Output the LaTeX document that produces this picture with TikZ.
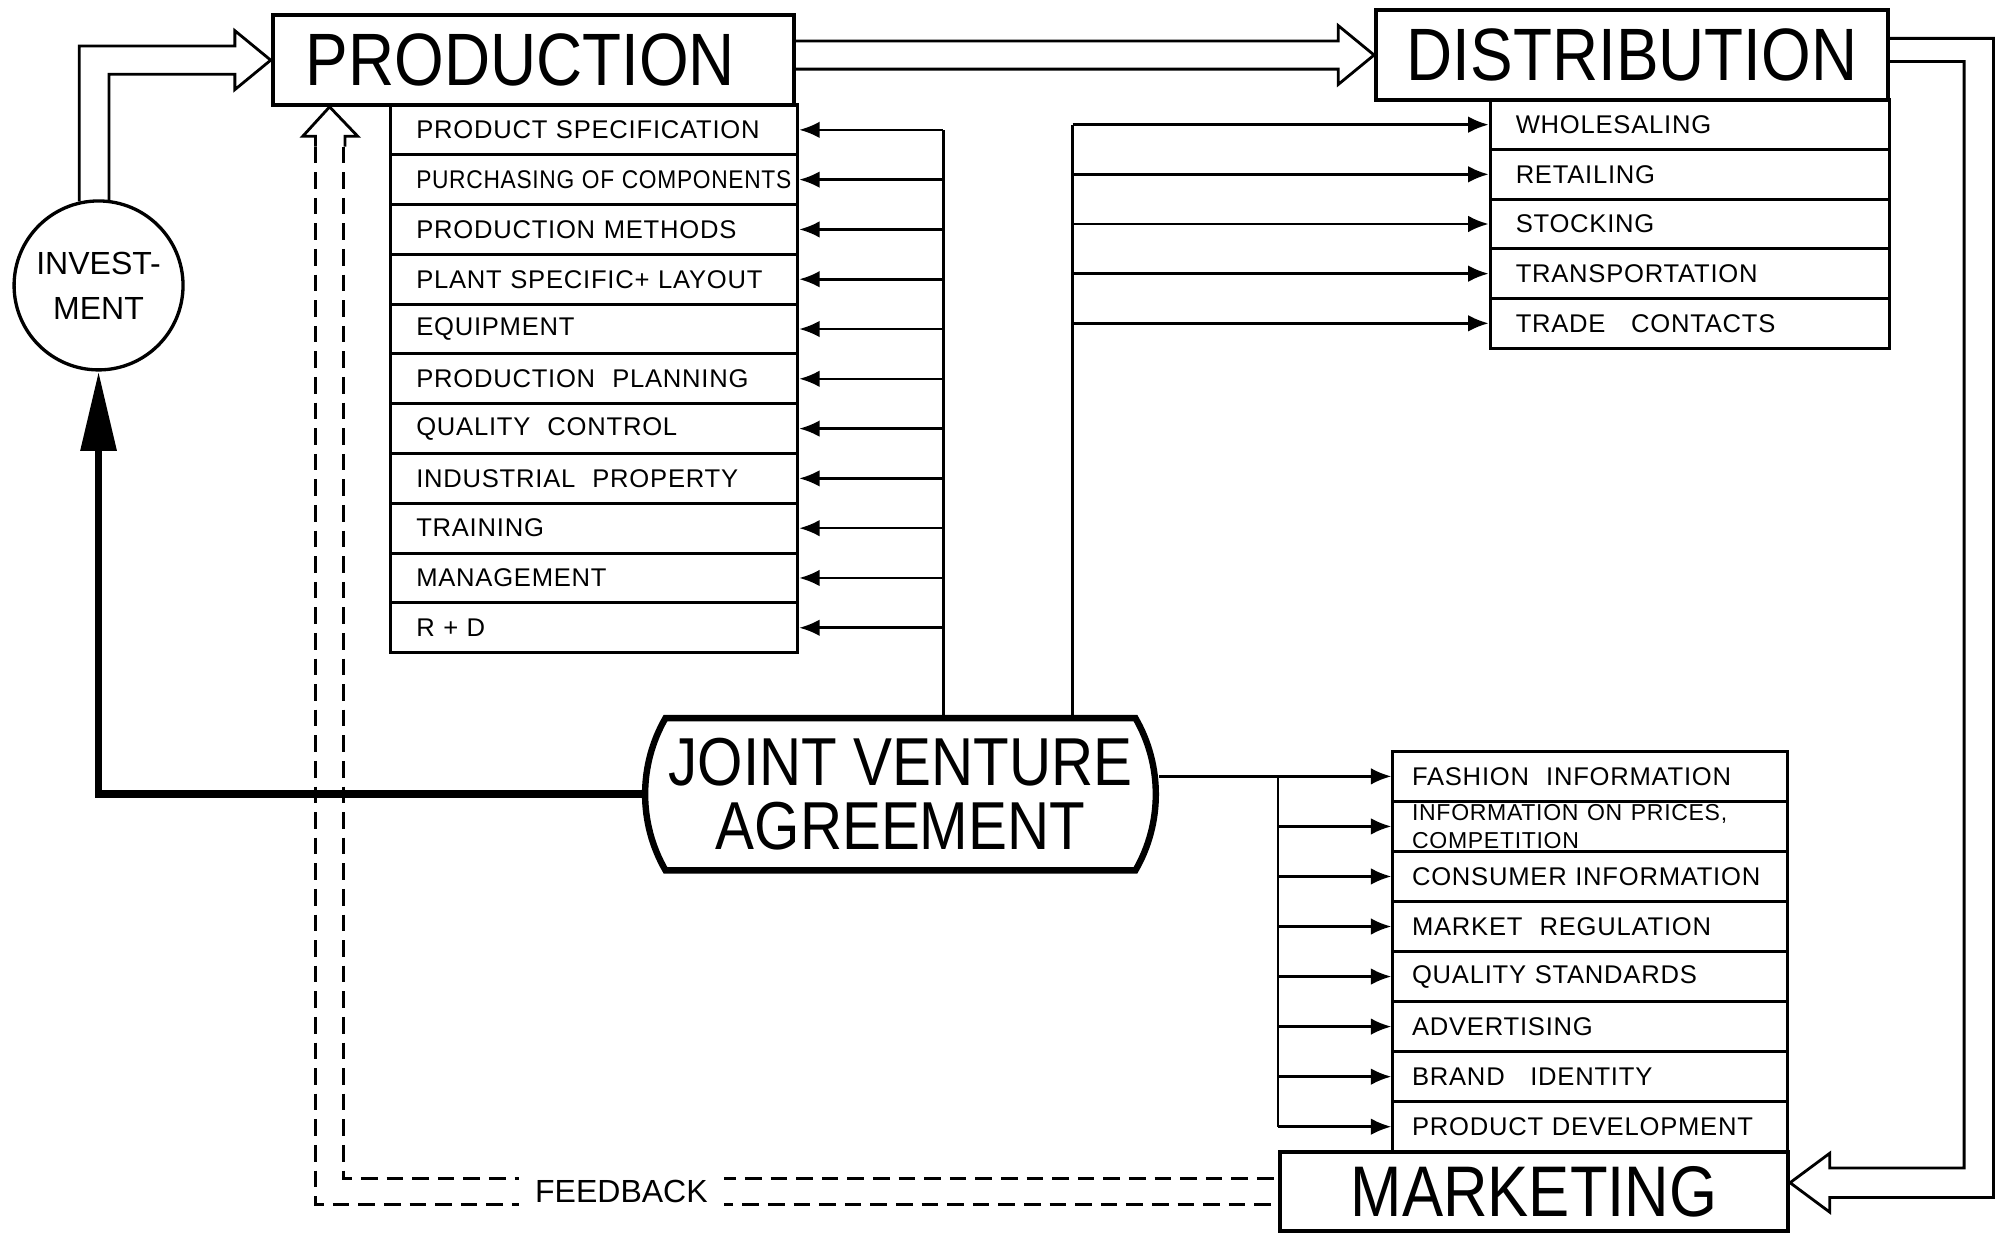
\documentclass[tikz,border=0pt]{standalone}
\usepackage{fontspec}
\setmainfont{Liberation Sans}
\newfontfamily\titlefamily{Liberation Sans}[FakeStretch=0.86]
\newfontfamily\rowfamily{Liberation Sans}[LetterSpace=3]
\usepackage{graphicx}
\usepackage{tikz}
\usetikzlibrary{positioning, calc, arrows.meta, shapes.misc}
\newcommand{\titlefont}[2]{\titlefamily\fontsize{#1}{#2}\selectfont}
\newcommand{\rowfont}{\rowfamily\fontsize{20}{22}\selectfont}

\begin{document}
\begin{tikzpicture}[x=1pt, y=-1pt,
    box/.style={draw, line width=3pt, inner sep=0pt},
    listrow/.style 2 args={draw, line width=2.4pt, anchor=west, inner ysep=0pt,
        minimum height=38.9pt, inner xsep=#2, text width=#1, align=left, font=\rowfont},
    bus/.style={line width=2pt},
    toarrow/.style={-{Latex[length=16pt, width=13pt]}, line width=2pt},
    hollow/.style={line width=2.2pt, line join=miter},
    dashline/.style={line width=2.2pt, dash pattern=on 13pt off 7pt}]
    \path[use as bounding box, fill=white] (0,0) rectangle (1568,965);

    % main blocks
    \node[box, minimum width=407pt, minimum height=70pt, font={\titlefont{58}{58}}] (prod) at (416.5,47) {PRODUCTION\hspace*{20pt}};
    \node[box, minimum width=400pt, minimum height=70pt, font={\titlefont{58}{58}}] (dist) at (1275,43) {DISTRIBUTION};
    \node[box, minimum width=397pt, minimum height=62pt, font={\titlefont{56}{56}}] (mkt) at (1198.5,931) {MARKETING};
    \node[circle, draw, line width=2.6pt, minimum size=132pt, inner sep=0pt, align=center,
        font=\fontsize{25}{35}\selectfont] (inv) at (77,223) {INVEST-\\MENT};
    \node[rounded rectangle, rounded rectangle arc length=60, draw, line width=5pt,
        minimum width=399pt, minimum height=119pt, inner sep=0pt, align=center,
        font={\titlefont{53}{50}}] (jv) at (703.5,620.5) {JOINT VENTURE\\AGREEMENT};

    % lists
    \foreach \txt [count=\i] in {PRODUCT SPECIFICATION, \scalebox{0.89}[1]{PURCHASING OF COMPONENTS},
        PRODUCTION METHODS, PLANT SPECIFIC+ LAYOUT, EQUIPMENT, PRODUCTION\ \ PLANNING,
        QUALITY\ \ CONTROL, INDUSTRIAL\ \ PROPERTY, TRAINING, MANAGEMENT, R + D}
        \node[listrow={278pt}{20pt}] (p\i) at (304, {82+38.9*(\i-0.5)}) {\txt};
    \foreach \txt [count=\i] in {WHOLESALING, RETAILING, STOCKING, TRANSPORTATION, TRADE\ \ \ CONTACTS}
        \node[listrow={272pt}{20pt}] (d\i) at (1163, {78+38.8*(\i-0.5)}) {\txt};
    \foreach \txt [count=\i] in {FASHION\ \ INFORMATION, {\fontsize{18}{15}\selectfont INFORMATION ON PRICES,\\COMPETITION},
        CONSUMER INFORMATION, MARKET\ \ REGULATION, QUALITY STANDARDS, ADVERTISING,
        BRAND\ \ \ IDENTITY, PRODUCT DEVELOPMENT}
        \node[listrow={278pt}{15pt}] (m\i) at (1087, {587+39.1*(\i-0.5)}) {\txt};

    % agreement to the lists
    \coordinate (pbus) at (737,0);
    \coordinate (dbus) at (838,0);
    \draw[bus] (jv.north -| pbus) -- (pbus |- p1.east);
    \foreach \i in {1,...,11}
        \draw[toarrow] (pbus |- p\i.east) -- (p\i.east);
    \draw[bus] (jv.north -| dbus) -- (dbus |- d1.west);
    \foreach \i in {1,...,5}
        \draw[toarrow] (dbus |- d\i.west) -- (d\i.west);
    \draw[toarrow] (jv.east |- m1.west) -- (m1.west);
    \draw[bus] (mkt.north west |- m1.west) -- (mkt.north west |- m8.west);
    \foreach \i in {2,...,8}
        \draw[toarrow] (mkt.north west |- m\i.west) -- (m\i.west);

    % investment
    \draw[line width=6pt, -{Triangle[length=62pt, width=27pt]}] (jv.west) -| (inv.south);
    \draw[hollow] (inv.103) |- ($(prod.west)+(-28,-11)$) -- ++(0,-12) -- (prod.west)
        -- ++(-28,23) -- ++(0,-12) -| (inv.83);

    % flow between the blocks
    \draw[hollow] ($(prod.east |- dist.west)+(0,-11)$) -- ($(dist.west)+(-28,-11)$) -- ++(0,-12)
        -- (dist.west) -- ++(-28,23) -- ++(0,-12) -- ($(prod.east |- dist.west)+(0,11)$);
    \draw[hollow] ($(dist.east)+(0,-13)$) -- ++(81,0) |- ($(mkt.east)+(31,4.5)$) -- ++(0,11.5)
        -- ($(mkt.east)+(0,-7)$) -- ++(31,-23) -- ++(0,11.5) -| ($(dist.east)+(58,5)$)
        -- ($(dist.east)+(0,5)$);

    % feedback
    \coordinate (fb) at ($(prod.south west)+(46,0)$);
    \draw[hollow] ($(fb)+(-11,31)$) -- ++(0,-8) -- ++(-10,0) -- (fb) -- ++(22,23) -- ++(-10,0) -- ++(0,8);
    \draw[dashline] ($(fb)+(-11,31)$) |- ($(mkt.west)+(0,10)$);
    \draw[dashline] ($(fb)+(11,31)$) |- ($(mkt.west)+(0,-10)$);
    \node[fill=white, inner xsep=13pt, font=\fontsize{25}{25}\selectfont] (fbk) at ($(fb |- mkt.west)+(228,0)$) {FEEDBACK};
\end{tikzpicture}
\end{document}
